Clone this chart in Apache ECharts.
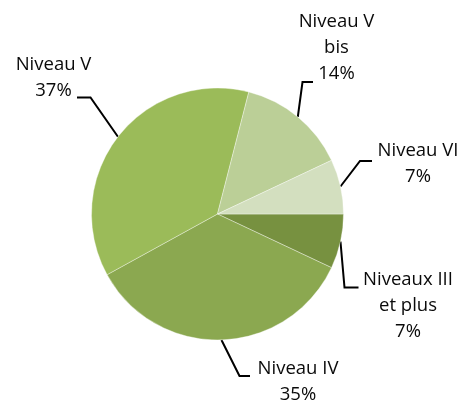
<!DOCTYPE html>
<html>
<head>
<meta charset="utf-8">
<script src="https://cdn.jsdelivr.net/npm/echarts@6/dist/echarts.min.js"></script>
<style>
html,body{margin:0;padding:0;background:#fff;}
#chart{width:462px;height:403px;}
</style>
</head>
<body>
<div id="chart"></div>
<script>
// Data (clockwise from 3 o'clock)
var categories = ['Niveaux III et plus', 'Niveau IV', 'Niveau V', 'Niveau V bis', 'Niveau VI'];
var labelTexts = ['Niveaux III\net plus', 'Niveau IV', 'Niveau V', 'Niveau V\nbis', 'Niveau VI'];
var shares = [7, 35, 37, 14, 7];

// Styles
var sliceColors = ['#779140', '#8BA850', '#9BBB59', '#BBCF97', '#D3DFBF'];

// Label layout (label top-centre, leader elbow, leader end)
var labelPlacement = [
  { x: 408, y: 266.5, elbow: [344.5, 287.5], end: [358.5, 287.5] },
  { x: 298, y: 355.5, elbow: [239.5, 376], end: [250, 376] },
  { x: 53.5, y: 51.5, elbow: [90.5, 97.5], end: [77, 97.5] },
  { x: 336.5, y: 8.5, elbow: [302.5, 82], end: [313, 82] },
  { x: 418, y: 138, elbow: [360, 161], end: [372, 161] }
];

var chart = echarts.init(document.getElementById('chart'), null, { renderer: 'canvas' });
var pieData = categories.map(function (c, i) {
  return { name: c, value: shares[i], itemStyle: { color: sliceColors[i] } };
});

chart.setOption({
  animation: false,
  backgroundColor: '#ffffff',
  series: [{
    type: 'pie',
    center: [217.5, 214],
    radius: 126,
    startAngle: 0,
    clockwise: true,
    avoidLabelOverlap: false,
    percentPrecision: 0,
    itemStyle: { borderColor: 'rgba(255,255,255,0.6)', borderWidth: 0.6 },
    label: {
      show: true,
      position: 'outside',
      formatter: function (p) { return labelTexts[p.dataIndex] + '\n' + p.percent + '%'; },
      fontFamily: 'Open Sans',
      fontSize: 18.5,
      lineHeight: 26,
      color: '#0a0a0a'
    },
    labelLine: {
      show: true,
      smooth: false,
      lineStyle: { color: '#000000', width: 2 }
    },
    labelLayout: function (params) {
      var lp = labelPlacement[params.dataIndex];
      var start = params.labelLinePoints ? params.labelLinePoints[0] : lp.elbow;
      return {
        x: lp.x,
        y: lp.y,
        align: 'center',
        verticalAlign: 'top',
        labelLinePoints: [start, lp.elbow, lp.end]
      };
    },
    emphasis: { disabled: true },
    data: pieData
  }]
});
</script>
</body>
</html>
